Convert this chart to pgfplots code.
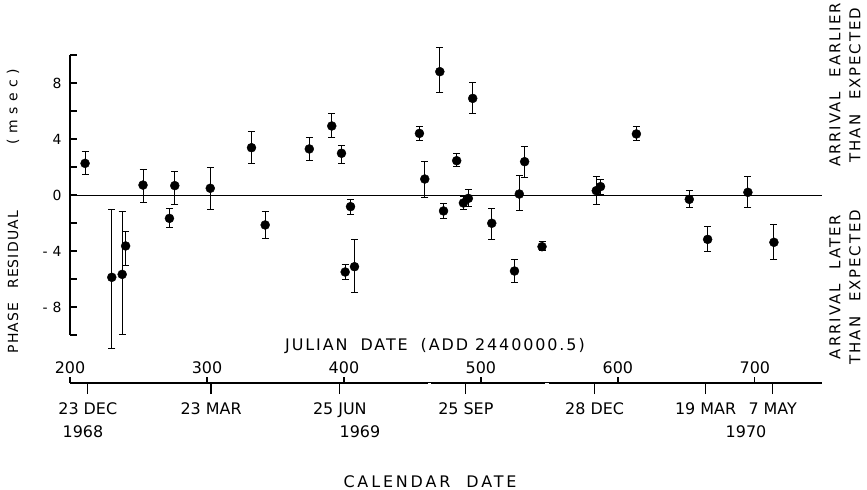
\documentclass[border=0pt]{standalone}
\usepackage{fontspec}
\setmainfont{DejaVu Sans}
\usepackage{pgfplots}
\pgfplotsset{compat=1.18}
\usepackage{pgfplotstable}
\pgfplotsset{/pgf/number format/assume math mode=true}

\newcommand{\spaced}[1]{\addfontfeature{LetterSpace=#1}}

% phase residuals (msec) against Julian date - 2440000.5, asymmetric error bars
\pgfplotstableread{
jd     y      ep    em
211.0  2.26   0.83  0.76
230.5  -5.88  4.88  5.07
238.1  -5.67  4.48  4.28
240.6  -3.64  1.07  1.36
253.3  0.71   1.12  1.23
272.6  -1.67  0.72  0.66
276.5  0.67   1.00  1.34
302.4  0.48   1.47  1.50
332.5  3.38   1.19  1.12
342.5  -2.14  0.95  0.96
374.7  3.29   0.83  0.81
391.1  4.93   0.86  0.83
398.2  2.98   0.59  0.72
400.9  -5.50  0.53  0.55
407.7  -5.12  1.95  1.86
404.8  -0.83  0.52  0.55
455.1  4.40   0.48  0.47
459.0  1.14   1.24  1.33
470.0  8.81   1.74  1.50
472.7  -1.14  0.54  0.53
482.3  2.45   0.53  0.43
487.2  -0.57  0.45  0.45
490.8  -0.24  0.64  0.59
494.0  6.90   1.12  1.07
507.9  -2.02  1.07  1.19
524.5  -5.43  0.86  0.81
528.0  0.07   1.31  1.14
531.9  2.38   1.12  1.12
544.6  -3.69  0.40  0.29
584.2  0.31   1.05  1.00
587.3  0.60   0.52  0.53
613.5  4.36   0.52  0.48
652.1  -0.31  0.67  0.59
665.5  -3.17  0.91  0.88
694.9  0.19   1.12  1.09
713.9  -3.38  1.31  1.19
}\residuals

\begin{document}
\begin{tikzpicture}[x=1bp,y=1bp]
\useasboundingbox (-70bp,-155bp) rectangle (797bp,335bp);

\begin{axis}[
  at={(0bp,0bp)}, anchor=south west,
  scale only axis, width=752bp, height=280bp,
  xmin=200, xmax=749, ymin=-10, ymax=10,
  axis x line=none, axis y line*=left,
  ytick={-10,-8,...,10},
  yticklabels={,{-\hspace{5bp}8},,{-\hspace{5bp}4},,0,,4,,8,},
  tick align=inside, major tick length=7bp,
  y axis line style={line width=1.2bp},
  ytick style={line width=1.2bp, black},
  yticklabel style={font=\fontsize{14}{14}\selectfont, xshift=-5bp},
  clip=false,
]
\addplot[black, line width=0.8bp] coordinates {(200,0) (749,0)};
\addplot[black, only marks, mark=*, mark size=4.5bp,
  error bars/.cd, y dir=both, y explicit,
  error bar style={line width=0.9bp},
  error mark options={rotate=90, line width=0.9bp, mark size=3.5bp}]
  table[x=jd, y=y, y error plus=ep, y error minus=em] {\residuals};
\end{axis}

% Julian date scale (ticks up)
\begin{axis}[
  at={(0bp,-48bp)}, anchor=north west,
  scale only axis, width=752bp, height=10bp,
  xmin=200, xmax=749, ymin=0, ymax=1,
  axis y line=none, axis x line*=top,
  xtick={200,300,...,700},
  tick align=outside, major tick length=6bp,
  x axis line style={line width=1.2bp},
  xtick style={line width=1.2bp, black},
  xticklabel style={font=\fontsize{16}{16}\selectfont},
]
\fill[white] (axis cs:461.7,0.5) rectangle (axis cs:463.9,1.5);
\fill[white] (axis cs:546.8,0.5) rectangle (axis cs:549.8,1.5);
\end{axis}

% calendar dates (ticks down)
\begin{axis}[
  at={(0bp,-48bp)}, anchor=south west,
  scale only axis, width=752bp, height=10bp,
  xmin=200, xmax=749, ymin=0, ymax=1,
  axis y line=none, axis x line*=bottom,
  x axis line style={draw=none},
  xtick={213,303,397,489,583,664,713},
  xticklabels={23 DEC, 23 MAR, 25 JUN, 25 SEP, 28 DEC, 19 MAR, 7 MAY},
  tick align=outside, major tick length=11bp,
  xtick style={line width=1.2bp, black},
  xticklabel style={font=\fontsize{16}{16}\selectfont, yshift=-5bp},
]
\end{axis}

\begin{scope}[font=\fontsize{16}{16}\selectfont]
\node at (13bp,-97bp) {1968};
\node at (290bp,-97bp) {1969};
\node at (676bp,-97bp) {1970};
\node at (365bp,-11bp) {\spaced{12}JULIAN\hspace{6bp} DATE\hspace{6bp} (ADD 2440000.5)};
\node at (360bp,-147bp) {\spaced{18}CALENDAR\hspace{8bp} DATE};
\end{scope}

\begin{scope}[font=\fontsize{14}{14}\selectfont]
\node[rotate=90] at (-57bp,7bp) {\spaced{8}PHASE};
\node[rotate=90] at (-57bp,85bp) {\spaced{8}RESIDUAL};
\node[rotate=90] at (-57bp,228bp) {\spaced{40}(msec)};
\end{scope}

\begin{scope}[font=\fontsize{15}{20}\selectfont]
\node[rotate=90, align=center] at (775bp,250bp) {\spaced{13}ARRIVAL\hspace{8bp} EARLIER\\\spaced{13}THAN\hspace{8bp} EXPECTED};
\node[rotate=90, align=center] at (775bp,48bp) {\spaced{13}ARRIVAL\hspace{8bp} LATER\\\spaced{13}THAN\hspace{8bp} EXPECTED};
\end{scope}
\end{tikzpicture}
\end{document}
